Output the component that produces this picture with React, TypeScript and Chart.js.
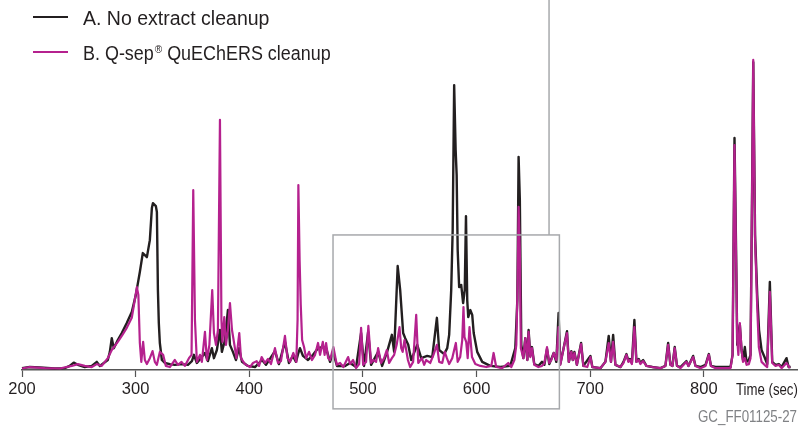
import { useEffect, useRef } from "react";
import { Chart, registerables } from "chart.js";

Chart.register(...registerables);

// Retention time (sec) vs detector signal (relative units)
const seriesA: [number, number][] = [
  [200,0.5],[206.8,0.8],[215.6,0.7],[228.8,0.4],[237.6,0.5],[242,1.1],[245.5,2.0],[249.1,1.4],[255.2,0.8],[261.4,1.1],[265.8,2.2],[268.5,1.1],[272,1.9],[275.5,2.7],[277.3,4.9],[279,8.6],[280.8,5.9],[284.3,8.1],[287.8,10],[292.2,12.7],[296.6,15.7],[300.2,20.3],[303.7,26.5],[306.3,31.6],[309.9,30.5],[312.5,35.1],[314.3,43.8],[315.2,45.1],[317.8,44.3],[318.7,42.7],[319.6,21.6],[320.4,12.7],[321.3,7.3],[323.1,2.7],[325.7,1.9],[330.1,1.6],[334.5,1.4],[340.7,1.6],[346,1.4],[349.5,2.4],[351.3,4.1],[353.9,1.9],[357.4,3.2],[360.9,4.6],[363.6,2.4],[367.1,5.9],[368.9,3.2],[371.5,5.4],[374.2,10.8],[375.9,4.9],[378.6,8.1],[381.2,16.2],[383,6.8],[385.6,4.9],[388.3,2.7],[390.9,5.9],[393.6,2.2],[398.8,1.1],[405,0.8],[411.2,2.7],[414.7,1.4],[422.6,5.1],[426.1,1.6],[431.4,7.6],[434.9,1.9],[438.4,3.8],[441.1,2.2],[442.9,4.3],[444.6,5.9],[447.3,3.8],[451.7,2.7],[456.1,4.1],[460.5,5.9],[464,6.2],[467.6,5.9],[471.1,2.2],[473.7,4.9],[477.2,1.1],[484.3,1.1],[488.7,1.9],[494,0.8],[498.4,10],[501,1.1],[504.6,10.3],[507.2,1.4],[513.4,4.9],[516.9,1.1],[521.3,4.9],[525.5,9.5],[527.5,4.9],[530.6,28.1],[532.8,21.6],[535.4,10],[537.2,8.6],[539.9,6.8],[542.5,2.7],[547.8,6.8],[551.3,3.2],[556.6,3.8],[561,3.5],[565.1,14.1],[567.1,5.4],[571.5,4.3],[574.2,5.9],[575.9,9.5],[577.7,21.6],[579,37.8],[580.3,77],[581.6,59.5],[582.5,52.7],[583.4,32.4],[584.7,22.4],[586.5,23],[588.2,18.1],[589.6,21.6],[590.7,41.6],[591.8,18.9],[592.7,14.3],[594.5,16.2],[596.2,14.9],[597.5,10],[600.6,4.9],[605,2.2],[612.1,1.1],[620.9,0.8],[629.7,1.1],[634.1,5.9],[635.9,18.9],[637,57.6],[638.1,45.9],[639.4,6.8],[641.2,3.2],[642.9,8.6],[644.7,2.7],[645.8,10.8],[647.3,3.8],[648.8,6.2],[650.8,1.6],[654.4,1.1],[657.6,2.2],[659.7,1.4],[662,5.7],[664,1.6],[667.9,4.6],[670.2,2.2],[672.2,15.4],[673.7,1.6],[676.3,5.4],[679.6,10.5],[681.2,2.2],[683.4,5.1],[684.7,2.7],[686.1,4.9],[688.3,1.4],[692,7.3],[694,1.1],[700.2,3.8],[701.9,0.8],[709,0.5],[713.4,2.2],[716.3,9.2],[718.3,2.2],[720.2,9.5],[722.2,1.4],[726.6,0.8],[729.3,2.2],[731.9,4.3],[733.7,2.4],[735,3],[736.7,1.9],[738.9,13.5],[740.7,2.2],[742.7,3],[744.2,1.9],[746.6,2.7],[749.5,1.1],[754.8,0.8],[761.8,0.5],[766.2,1.1],[768.6,7.3],[770.6,1.4],[772.4,1.1],[774.4,6.2],[776.4,1.1],[779.4,0.8],[784.7,2.4],[786.5,1.1],[790.6,3.8],[792.7,1.1],[797.1,0.8],[801.5,1.4],[804.4,4.3],[806.3,1.1],[810.3,0.8],[819.1,0.8],[823.5,0.8],[825.3,4.1],[827,62.7],[828.4,32.4],[829.4,6.8],[831.7,12.2],[833.2,5.4],[834.5,2.7],[836.1,6.2],[837.6,2.2],[839.6,2.7],[841.1,4.1],[842.4,45.9],[843.5,83.2],[845.1,36.5],[847,20.3],[848.6,10.8],[850.8,5.4],[853.4,3.5],[855.8,1.6],[858.1,23.8],[860.2,2.2],[863.1,1.4],[866,1.6],[868.4,0.8],[872.8,3.2],[874.6,0.8],[876.4,0.8]
];

const seriesB: [number, number][] = [
  [200,0.4],[206.8,0.8],[220,0.5],[233.2,0.4],[243.8,1.1],[249.1,1.6],[255.2,1.1],[261.4,0.8],[265.8,1.6],[270.2,1.1],[275.5,3.2],[279,5.4],[284.3,7.6],[287.8,9.2],[292.2,11.4],[296.6,14.1],[298.8,18.1],[301.1,22.4],[302.4,20.3],[303.7,7.3],[305,2.2],[306.6,7.6],[308.1,2.7],[309.9,1.6],[312.5,3.2],[314.9,5.1],[316.9,2.2],[318.7,1.4],[321.3,4.9],[324.2,4.1],[326.6,1.1],[330.1,0.8],[334.5,2.7],[337.2,1.4],[340.4,2.2],[343.3,1.1],[346.9,3.2],[349.2,4.1],[350.7,48.6],[352.2,13.5],[353.9,2.2],[356.6,4.1],[358.3,2.2],[361,10.3],[362.7,2.7],[364.9,6.8],[367.4,21.6],[368.9,10],[370.7,6.8],[372.4,10.8],[374.2,67.6],[375.5,13.5],[376.4,7.6],[378,14.3],[379.5,6.8],[381.2,10.8],[383,18.1],[384.8,10.8],[386.5,7.6],[388.7,3.2],[391.2,10],[392.7,3.2],[396.2,1.6],[400.6,0.8],[403.3,1.9],[406.5,2.4],[408.6,1.1],[410.9,3.5],[413.8,1.9],[416.5,3],[419.1,1.6],[422.6,5.9],[425.3,1.9],[427.9,2.4],[431.4,9.2],[433.6,3.2],[435.9,2.2],[438.8,4.6],[441.4,2.2],[442.5,13.5],[443.2,50],[444.3,29.7],[445.3,17.6],[446.5,8.1],[448.2,6.2],[450,3.2],[452.6,4.9],[455.2,2.7],[457.9,4.1],[460.5,7.3],[462.3,4.1],[464.7,7.6],[466.3,4.1],[467.6,7.3],[469.4,3.2],[471.1,2.7],[474,6.2],[477,1.4],[479.9,1.9],[482.8,0.8],[487,3.5],[488.7,1.6],[491.4,2.7],[494,0.5],[496.7,1.6],[498.4,11.4],[500.2,1.4],[502.8,2.2],[504.8,11.9],[507.2,1.9],[509,2.7],[511.6,2.2],[513.4,5.9],[516,1.9],[518.7,3.2],[521,5.4],[523.1,1.9],[525.5,3.2],[527.5,4.1],[529.7,6.8],[532.2,11.6],[533.7,5.9],[535,4.9],[536.6,8.1],[539.6,2.7],[541.6,0.8],[544.2,2.2],[546.9,14.9],[548.7,1.9],[551.9,3.2],[553.9,1.4],[555.7,2.7],[559.2,1.9],[562.1,4.1],[565.1,6.8],[567.1,2.2],[569.8,1.9],[572,4.9],[573.9,3.2],[575.9,1.6],[578.6,3.2],[580.3,5.4],[581.8,7.3],[583.4,2.2],[585.6,3.5],[587.4,8.1],[588.5,17],[589.4,8.9],[590.9,7.6],[592.2,3.2],[593.8,11.6],[596,3.5],[598.9,1.6],[603.3,1.1],[608.6,0.8],[613,1.1],[615,4.6],[617.3,0.8],[622.6,0.5],[627.9,1.9],[630.6,0.8],[633.3,2.7],[635,6.8],[636.2,24.3],[637,44.1],[638.1,32.4],[639,5.9],[641.2,3.2],[642.9,8.6],[644.7,2.7],[645.8,10.3],[647.3,3.5],[648.8,5.9],[650.8,1.4],[654.4,0.8],[657.6,1.1],[659.7,1.9],[662,6.2],[664,1.9],[665.8,2.7],[667.9,4.6],[670.2,2.7],[672.2,11.6],[673.7,1.4],[676.3,5.4],[679.6,10],[681.2,2.2],[683.4,4.9],[684.7,2.7],[686.1,4.6],[688.3,1.4],[692,7],[694,1.1],[697.5,0.8],[700.2,3.5],[701.9,0.8],[709,0.5],[713.4,2.2],[716.3,7.3],[718.3,2.2],[720.2,7.6],[722.2,1.4],[726.6,0.8],[729.3,1.9],[731.9,4.1],[733.7,2.2],[735,2.7],[736.7,1.6],[738.9,11.6],[740.7,2.2],[742.7,2.7],[744.2,1.6],[746.6,2.4],[749.5,1.1],[754.8,0.8],[761.8,0.5],[766.2,1.1],[768.6,6.8],[770.6,1.4],[772.4,1.1],[774.4,5.9],[776.4,1.1],[779.4,0.5],[784.7,2.2],[786.5,1.1],[790.6,3.5],[792.7,1.1],[797.1,0.5],[801.5,1.1],[804.4,4.1],[806.3,1.1],[810.3,0.5],[819.1,0.5],[823.5,0.5],[825.3,4.1],[827,60.8],[828.4,29.7],[829.4,8.1],[830.4,4.1],[831.7,12.7],[833.2,5.4],[834.5,2.2],[836.1,3.2],[837.6,1.4],[839.6,1.6],[841.1,3.2],[842.4,45.9],[843.5,83.8],[845.1,35.1],[847,17],[848.4,6.2],[850.8,2.2],[853.4,1.4],[855.8,0.8],[858.1,21.1],[860.2,1.9],[863.1,1.1],[866,1.4],[868.4,0.5],[872.8,1.9],[875.7,0.5]
];

const xTicks = [200, 300, 400, 500, 600, 700, 800];
const legendA = "A. No extract cleanup";
const legendBParts = ["B. Q-sep", "\u00AE", " QuEChERS cleanup"];
const axisTitle = "Time (sec)";
const figureCode = "GC_FF01125-27";
// highlighted inset window (time range, signal range) and leader line time
const insetTime = [473.7, 672.9];
const insetSignal = [-10.5, 36.5];
const leaderTime = 663.8;

const X_MIN = 200;
const X_MAX = 882;
const Y_MIN = 0;
const Y_MAX = 100;

const BLACK = "#231f20";
const MAGENTA = "#b5218e";
const GRAY = "#a7a9ac";
const SANS = "'Liberation Sans', Arial, sans-serif";

// draw text squeezed horizontally so it spans a given width
function fitText(ctx: CanvasRenderingContext2D, text: string, x: number, y: number, width: number, align: "left" | "center" | "right") {
  const w = ctx.measureText(text).width;
  const k = Math.min(1, width / w);
  const left = align === "left" ? x : align === "center" ? x - (w * k) / 2 : x - w * k;
  ctx.save();
  ctx.translate(left, y);
  ctx.scale(k, 1);
  ctx.textAlign = "left";
  ctx.fillText(text, 0, 0);
  ctx.restore();
}

const overlayPlugin = {
  id: "overlay",
  afterDatasetsDraw(chart: any) {
    const { ctx, scales } = chart;
    const x = scales.x;
    const y = scales.y;
    ctx.save();
    const l = x.getPixelForValue(insetTime[0]);
    const r = x.getPixelForValue(insetTime[1]);
    const t = y.getPixelForValue(insetSignal[1]);
    const b = y.getPixelForValue(insetSignal[0]);
    ctx.strokeStyle = GRAY;
    ctx.lineWidth = 1.5;
    ctx.strokeRect(l, t, r - l, b - t);
    const lx = x.getPixelForValue(leaderTime);
    ctx.beginPath();
    ctx.moveTo(lx, t);
    ctx.lineTo(lx, y.getPixelForValue(Y_MAX));
    ctx.stroke();
    ctx.restore();
  },
  afterDraw(chart: any) {
    const { ctx, scales } = chart;
    const x = scales.x;
    ctx.save();
    ctx.textBaseline = "alphabetic";
    // legend line samples
    [[BLACK, 17], [MAGENTA, 52]].forEach(([c, yy]) => {
      ctx.strokeStyle = c as string;
      ctx.lineWidth = 2;
      ctx.beginPath();
      ctx.moveTo(33, yy as number);
      ctx.lineTo(68, yy as number);
      ctx.stroke();
    });
    ctx.fillStyle = BLACK;
    ctx.font = "19.5px " + SANS;
    fitText(ctx, legendA, 83, 24.5, 189, "left");
    // B label with superscript registered mark
    const k = 0.92;
    ctx.save();
    ctx.translate(83, 59.5);
    ctx.scale(k, 1);
    ctx.font = "19.5px " + SANS;
    ctx.textAlign = "left";
    ctx.fillText(legendBParts[0], 0, 0);
    let px = ctx.measureText(legendBParts[0]).width + 1;
    ctx.font = "11px " + SANS;
    ctx.fillText(legendBParts[1], px, -7);
    px += ctx.measureText(legendBParts[1]).width;
    ctx.font = "19.5px " + SANS;
    ctx.fillText(legendBParts[2], px, 0);
    ctx.restore();
    // axis title
    ctx.font = "17px " + SANS;
    ctx.fillStyle = BLACK;
    ctx.textBaseline = "middle";
    fitText(ctx, axisTitle, x.getPixelForValue(855.5), 390, 62, "center");
    // figure code
    ctx.font = "17px " + SANS;
    ctx.fillStyle = "#808285";
    fitText(ctx, figureCode, x.right, 417, 99, "right");
    ctx.restore();
  },
};

export default function App() {
  const ref = useRef<HTMLCanvasElement | null>(null);
  useEffect(() => {
    if (!ref.current) return;
    const chart = new Chart(ref.current, {
      type: "line",
      data: {
        datasets: [
          {
            label: "B. Q-sep\u00AE QuEChERS cleanup",
            data: seriesB.map(([t, v]) => ({ x: t, y: v })),
            borderColor: MAGENTA,
            borderWidth: 2.2,
            pointRadius: 0,
            tension: 0,
            borderJoinStyle: "round",
            clip: false,
            order: 0,
          },
          {
            label: legendA,
            data: seriesA.map(([t, v]) => ({ x: t, y: v })),
            borderColor: BLACK,
            borderWidth: 2.4,
            pointRadius: 0,
            tension: 0,
            borderJoinStyle: "round",
            clip: false,
            order: 1,
          },
        ],
      },
      options: {
        animation: false,
        responsive: false,
        devicePixelRatio: 1,
        layout: { padding: { left: 22, right: 4, top: 0, bottom: 0 } },
        plugins: { legend: { display: false }, tooltip: { enabled: false } },
        scales: {
          x: {
            type: "linear",
            min: X_MIN,
            max: X_MAX,
            afterBuildTicks: (s: any) => {
              s.ticks = xTicks.map((v) => ({ value: v }));
            },
            afterFit: (s: any) => {
              s.height = 56;
            },
            ticks: {
              includeBounds: false,
              autoSkip: false,
              maxRotation: 0,
              padding: 3,
              color: BLACK,
              font: { family: SANS, size: 16.5 },
            },
            grid: {
              drawOnChartArea: false,
              drawTicks: true,
              tickLength: 7,
              tickColor: "#555",
              tickWidth: 1.2,
            },
            border: { display: true, color: "#555", width: 1.5 },
          },
          y: {
            display: false,
            min: Y_MIN,
            max: Y_MAX,
          },
        },
      },
      plugins: [overlayPlugin],
    });
    return () => chart.destroy();
  }, []);
  return (
    <div style={{ position: "absolute", left: 0, top: 0, width: 801, height: 426, background: "#fff" }}>
      <canvas ref={ref} width={801} height={426} />
    </div>
  );
}
